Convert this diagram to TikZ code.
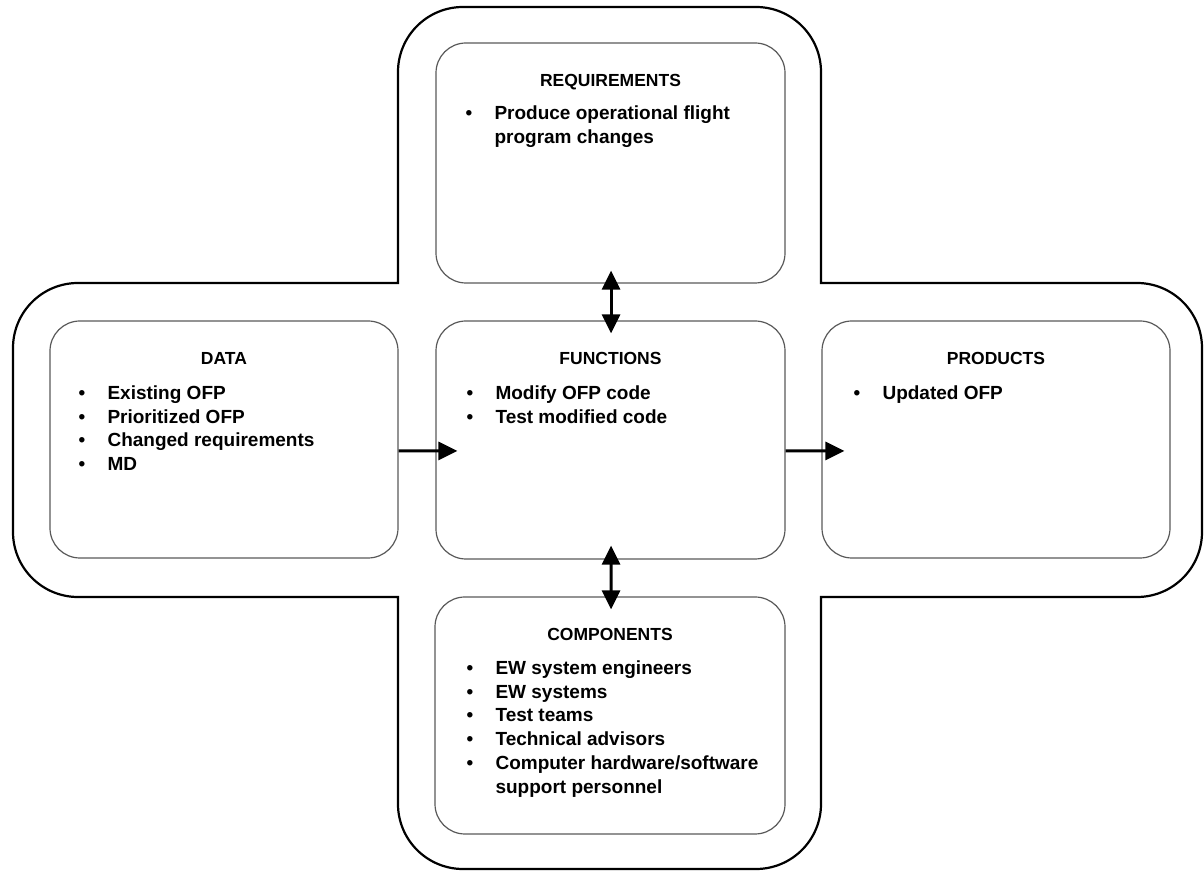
\documentclass[tikz,border=0pt]{standalone}
\usepackage{fontspec}
\setmainfont{Liberation Sans}
\usetikzlibrary{arrows.meta,calc}

% bullet list set as a two-column tabular
\newcommand{\bulletlist}[1]{\begin{tabular}[t]{@{}l@{\hspace{22.3bp}}l@{}}#1\end{tabular}}

\begin{document}
\begin{tikzpicture}[x=1bp,y=1bp,
  box/.style={draw=black!65, line width=1.2bp, rounded corners=30bp, inner sep=0pt},
  frame/.style={draw=black, line width=2.2bp, line join=miter},
  title/.style={anchor=base, inner sep=0pt, font=\fontsize{17.5bp}{21bp}\selectfont\bfseries},
  items/.style={anchor=base west, inner sep=0pt, font=\fontsize{19bp}{23.8bp}\selectfont\bfseries},
  arr/.style={line width=3bp, -{Triangle[length=19bp,width=18bp]}},
  darr/.style={line width=3bp, {Triangle[length=19bp,width=18bp]}-{Triangle[length=19bp,width=18bp]}}]

\useasboundingbox (0,0) rectangle (1204,871);

% outer cross-shaped frame: rounded outer corners, square inner corners
\def\R{65}
\draw[frame]
  (398,588) -- (398,864-\R) arc[start angle=180, end angle=90, radius=\R]
  -- (821-\R,864) arc[start angle=90, end angle=0, radius=\R]
  -- (821,588) -- (1202-\R,588) arc[start angle=90, end angle=0, radius=\R]
  -- (1202,274+\R) arc[start angle=0, end angle=-90, radius=\R]
  -- (821,274) -- (821,2+\R) arc[start angle=0, end angle=-90, radius=\R]
  -- (398+\R,2) arc[start angle=-90, end angle=-180, radius=\R]
  -- (398,274) -- (13+\R,274) arc[start angle=-90, end angle=-180, radius=\R]
  -- (13,588-\R) arc[start angle=180, end angle=90, radius=\R]
  -- cycle;

% the five boxes
\node[box, minimum width=349bp, minimum height=240bp] (req)  at (610.5,708)   {};
\node[box, minimum width=348bp, minimum height=237bp] (data) at (224,431.5)   {};
\node[box, minimum width=349bp, minimum height=238bp] (func) at (610.5,431)   {};
\node[box, minimum width=348bp, minimum height=237bp] (prod) at (996,431.5)   {};
\node[box, minimum width=350bp, minimum height=237bp] (comp) at (610,155.5)   {};

% titles
\node[title] (reqT)  at ($(req.north)+(0,-44)$)  {REQUIREMENTS};
\node[title] (dataT) at ($(data.north)+(0,-44)$) {DATA};
\node[title] (funcT) at ($(func.north)+(0,-44)$) {FUNCTIONS};
\node[title] (prodT) at ($(prod.north)+(0,-44)$) {PRODUCTS};
\node[title] (compT) at ($(comp.north)+(0,-44)$) {COMPONENTS};

% bullet lists
\node[items] (reqL) at ($(req.north west)+(30,-77)$)
  {\bulletlist{\textbullet & Produce operational flight\\ & program changes}};
\node[items] (dataL) at ($(data.north west)+(29,-79)$)
  {\bulletlist{\textbullet & Existing OFP\\ \textbullet & Prioritized OFP\\
   \textbullet & Changed requirements\\ \textbullet & MD}};
\node[items] (funcL) at ($(func.north west)+(31,-79)$)
  {\bulletlist{\textbullet & Modify OFP code\\ \textbullet & Test modified code}};
\node[items] (prodL) at ($(prod.north west)+(32,-79)$)
  {\bulletlist{\textbullet & Updated OFP}};
\node[items] (compL) at ($(comp.north west)+(32,-78)$)
  {\bulletlist{\textbullet & EW system engineers\\ \textbullet & EW systems\\
   \textbullet & Test teams\\ \textbullet & Technical advisors\\
   \textbullet & Computer hardware/software\\ & support personnel}};

% connectors
\draw[darr] ([xshift=0.5bp,yshift=13bp]req.south) -- ([xshift=0.5bp,yshift=-13bp]func.north);
\draw[darr] ([xshift=0.5bp,yshift=14bp]func.south) -- ([xshift=1bp,yshift=-13bp]comp.north);
\draw[arr] ([yshift=-11.5bp]data.east) -- ([xshift=22bp,yshift=-11bp]func.west);
\draw[arr] ([yshift=-11bp]func.east) -- ([xshift=23bp,yshift=-11.5bp]prod.west);

\end{tikzpicture}
\end{document}
